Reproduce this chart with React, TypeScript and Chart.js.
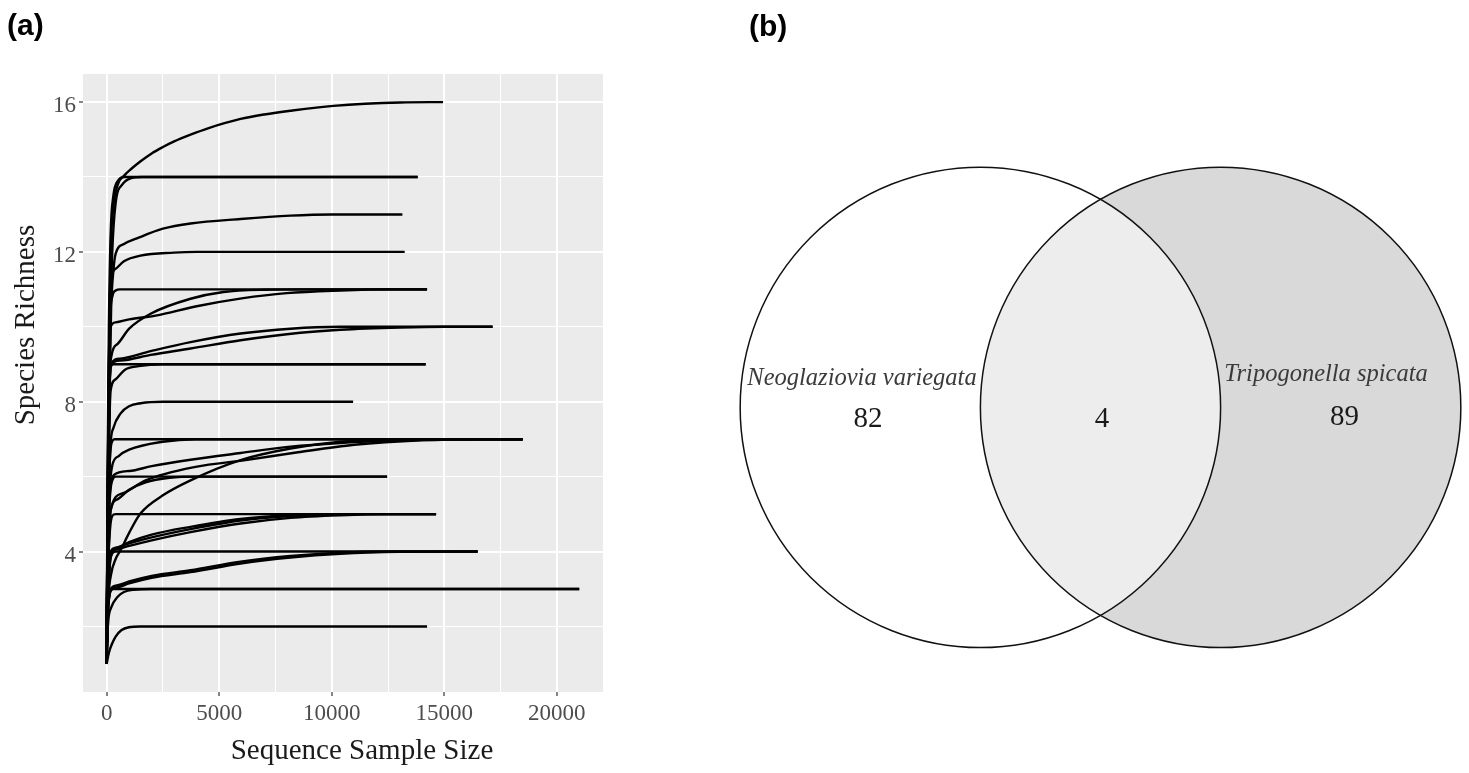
import React, { useEffect, useRef } from 'react';
import { Chart, registerables } from 'chart.js';

Chart.register(...registerables);

// ---------- Panel (a): rarefaction curves ----------
const X_MAJOR_TICKS = [0, 5000, 10000, 15000, 20000];
const X_MINOR_TICKS = [2500, 7500, 12500, 17500];
const Y_MAJOR_TICKS = [4, 8, 12, 16];
const Y_MINOR_TICKS = [2, 6, 10, 14];
const X_TITLE = 'Sequence Sample Size';
const Y_TITLE = 'Species Richness';

// each curve: [sequence sample size, species richness]
const r16 = [[1, 1], [40, 5], [100, 9], [180, 12], [300, 13.2], [500, 13.8], [800, 14.05], [1100, 14.22], [1509, 14.42], [2000, 14.63], [2500, 14.8], [3000, 14.95], [3728, 15.13], [4500, 15.3], [5948, 15.55], [7000, 15.67], [8167, 15.77], [10075, 15.9], [13049, 15.99], [14944, 16]];
const r14a = [[1, 1], [40, 6], [100, 10], [180, 12.5], [300, 13.5], [500, 13.9], [800, 14], [13817, 14]];
const r14b = [[1, 1], [50, 5], [120, 9], [250, 12], [400, 13.3], [700, 13.8], [1100, 13.97], [1600, 14], [13817, 14]];
const r13 = [[1, 1], [40, 4], [100, 7.5], [200, 10.5], [300, 11.5], [400, 11.95], [770, 12.21], [1420, 12.38], [2500, 12.62], [3728, 12.76], [5948, 12.88], [8167, 12.97], [10000, 13], [13138, 13]];
const r12 = [[1, 1], [30, 4], [80, 7.5], [130, 10], [178, 11.2], [400, 11.55], [770, 11.75], [1509, 11.9], [2974, 11.98], [4000, 12], [13240, 12]];
const r11a = [[1, 1], [30, 4], [80, 8], [150, 10.2], [250, 10.8], [400, 10.97], [600, 11], [14234, 11]];
const r11b = [[1, 1], [30, 4], [80, 7], [140, 9.3], [178, 10.0], [400, 10.12], [1000, 10.2], [2175, 10.3], [4000, 10.55], [6000, 10.76], [8000, 10.9], [10386, 10.97], [12500, 11], [14234, 11]];
const r11c = [[1, 1], [30, 3.5], [80, 6.5], [140, 8.6], [178, 9.1], [500, 9.55], [1000, 9.95], [1953, 10.35], [3728, 10.75], [5193, 10.93], [7000, 10.99], [9000, 11], [14234, 11]];
const r10a = [[1, 1], [30, 3.5], [80, 6.5], [140, 8.5], [178, 9.0], [600, 9.15], [1953, 9.35], [3728, 9.59], [5948, 9.82], [8167, 9.95], [10386, 10], [17146, 10]];
const r10b = [[1, 1], [30, 3.5], [80, 6.5], [140, 8.5], [178, 9.0], [600, 9.1], [1953, 9.25], [3728, 9.42], [5948, 9.64], [8611, 9.84], [10386, 9.92], [13049, 9.98], [15000, 10], [17146, 10]];
const r9a = [[1, 1], [30, 4], [80, 7], [130, 8.5], [200, 8.95], [300, 9], [14172, 9]];
const r9b = [[1, 1], [30, 3.5], [80, 6], [130, 7.6], [178, 8.3], [400, 8.6], [800, 8.85], [1420, 8.95], [2500, 9], [14172, 9]];
const r8 = [[1, 1], [30, 3], [80, 5], [130, 6.2], [178, 6.9], [300, 7.3], [622, 7.69], [1000, 7.88], [1509, 7.96], [2500, 8], [10950, 8]];
const r7a = [[1, 1], [30, 3], [80, 5], [130, 6.3], [200, 6.85], [350, 7], [18478, 7]];
const r7b = [[1, 1], [30, 3], [80, 4.8], [150, 5.8], [250, 6.3], [533, 6.55], [1000, 6.72], [2486, 6.93], [3950, 7], [18478, 7]];
const r7c = [[1, 1], [30, 3], [80, 4.8], [150, 5.6], [310, 6.04], [1000, 6.15], [2000, 6.28], [3728, 6.45], [5948, 6.63], [8167, 6.8], [10386, 6.9], [13000, 6.97], [15500, 7], [18478, 7]];
const r7d = [[1, 1], [30, 2.5], [80, 3.8], [178, 5.1], [700, 5.55], [1731, 5.9], [3950, 6.26], [6170, 6.44], [8500, 6.65], [11000, 6.85], [14000, 6.97], [16500, 7], [18478, 7]];
const r7e = [[1, 1], [30, 2], [80, 2.8], [200, 3.4], [400, 3.8], [622, 4.04], [1000, 4.5], [1509, 5.02], [2500, 5.5], [3728, 5.9], [5948, 6.44], [8167, 6.75], [10386, 6.93], [12600, 6.99], [14000, 7], [18478, 7]];
const r6a = [[1, 1], [30, 3], [80, 4.5], [150, 5.5], [250, 5.9], [400, 6], [12459, 6]];
const r6b = [[1, 1], [30, 2.8], [80, 4], [178, 5.1], [500, 5.4], [1000, 5.65], [1731, 5.85], [2800, 5.97], [4000, 6], [12459, 6]];
const r5a = [[1, 1], [30, 2.5], [80, 3.8], [150, 4.6], [250, 4.95], [400, 5], [14634, 5]];
const r5b = [[1, 1], [30, 2.5], [80, 3.3], [178, 4.0], [400, 4.1], [1000, 4.22], [2000, 4.38], [3728, 4.6], [5948, 4.83], [8167, 4.95], [10386, 5], [14634, 5]];
const r5c = [[1, 1], [30, 2.5], [80, 3.3], [178, 3.95], [400, 4.05], [1000, 4.15], [2000, 4.3], [3728, 4.52], [5948, 4.75], [8167, 4.9], [10386, 4.97], [12500, 5], [14634, 5]];
const r5d = [[1, 1], [30, 2.3], [80, 3.1], [178, 3.85], [500, 4.1], [1000, 4.25], [2000, 4.45], [3728, 4.66], [5948, 4.87], [8167, 4.97], [10000, 5], [14634, 5]];
const r4a = [[1, 1], [30, 2.2], [80, 3], [150, 3.7], [250, 3.95], [400, 4], [16480, 4]];
const r4b = [[1, 1], [30, 2], [80, 2.6], [178, 3.0], [500, 3.1], [1000, 3.2], [2000, 3.35], [3728, 3.5], [5948, 3.73], [8167, 3.88], [10386, 3.97], [12500, 4], [16480, 4]];
const r4c = [[1, 1], [30, 2], [80, 2.6], [178, 2.95], [500, 3.05], [1000, 3.15], [2000, 3.3], [3728, 3.45], [5948, 3.68], [8167, 3.84], [10386, 3.94], [13000, 3.99], [16480, 4]];
const r3a = [[1, 1], [30, 2], [80, 2.6], [150, 2.9], [250, 3], [20994, 3]];
const r3b = [[1, 1], [30, 1.7], [80, 2.2], [200, 2.5], [500, 2.8], [770, 2.92], [1200, 2.98], [2000, 3], [20994, 3]];
const r2 = [[1, 1], [100, 1.3], [250, 1.55], [400, 1.73], [650, 1.9], [990, 1.98], [1500, 2], [14234, 2]];

const CURVES = [r16, r14a, r14b, r13, r12, r11a, r11b, r11c, r10a, r10b, r9a, r9b, r8, r7a, r7b, r7c, r7d, r7e, r6a, r6b, r5a, r5b, r5c, r5d, r4a, r4b, r4c, r3a, r3b, r2];

// ---------- Panel (b): Venn diagram ----------
const VENN_SETS = ['Neoglaziovia variegata', 'Tripogonella spicata'];
const VENN_COUNTS = [82, 4, 89]; // only first, shared, only second

const SERIF = "'Liberation Serif', 'Times New Roman', Times, serif";
const SANS = "'Liberation Sans', Arial, Helvetica, sans-serif";

const panelA = {
  id: 'panelA',
  beforeDraw(chart: any) {
    const { ctx, chartArea } = chart;
    ctx.save();
    ctx.fillStyle = '#EBEBEB';
    ctx.fillRect(chartArea.left, chartArea.top, chartArea.right - chartArea.left, chartArea.bottom - chartArea.top);
    ctx.restore();
  },
  afterDraw(chart: any) {
    const { ctx } = chart;
    ctx.save();
    ctx.fillStyle = '#000';
    ctx.font = `bold 30px ${SANS}`;
    ctx.textAlign = 'left';
    ctx.textBaseline = 'alphabetic';
    ctx.fillText('(a)', 7, 35);
    ctx.fillStyle = '#1A1A1A';
    ctx.font = `29px ${SERIF}`;
    ctx.textAlign = 'center';
    ctx.fillText(X_TITLE, 362, 759);
    ctx.translate(33.5, 325);
    ctx.rotate(-Math.PI / 2);
    ctx.fillText(Y_TITLE, 0, 0);
    ctx.restore();
  },
};

const vennPlugin = {
  id: 'venn',
  afterDraw(chart: any) {
    const { ctx } = chart;
    const xs = chart.scales.x;
    const ys = chart.scales.y;
    const cxA = xs.getPixelForValue(-0.5);
    const cxB = xs.getPixelForValue(0.5);
    const cy = ys.getPixelForValue(0);
    const r = xs.getPixelForValue(1) - xs.getPixelForValue(0);
    const TAU = Math.PI * 2;
    ctx.save();
    ctx.beginPath();
    ctx.arc(cxB, cy, r, 0, TAU);
    ctx.fillStyle = '#D9D9D9';
    ctx.fill();
    ctx.beginPath();
    ctx.arc(cxA, cy, r, 0, TAU);
    ctx.fillStyle = '#FFFFFF';
    ctx.fill();
    ctx.save();
    ctx.beginPath();
    ctx.arc(cxA, cy, r, 0, TAU);
    ctx.clip();
    ctx.beginPath();
    ctx.arc(cxB, cy, r, 0, TAU);
    ctx.fillStyle = '#ECEDEC';
    ctx.fill();
    ctx.restore();
    ctx.lineWidth = 1.5;
    ctx.strokeStyle = '#111';
    ctx.beginPath();
    ctx.arc(cxA, cy, r, 0, TAU);
    ctx.stroke();
    ctx.beginPath();
    ctx.arc(cxB, cy, r, 0, TAU);
    ctx.stroke();

    ctx.textAlign = 'center';
    ctx.textBaseline = 'alphabetic';
    ctx.fillStyle = '#3A3A3A';
    ctx.font = `italic 24.5px ${SERIF}`;
    ctx.fillText(VENN_SETS[0], cxA - 118.4, cy - 22.4);
    ctx.fillText(VENN_SETS[1], cxB + 105.4, cy - 25.9);
    ctx.fillStyle = '#1A1A1A';
    ctx.font = `29px ${SERIF}`;
    ctx.fillText(String(VENN_COUNTS[0]), cxA - 112.4, cy + 20.1);
    ctx.fillText(String(VENN_COUNTS[1]), (cxA + cxB) / 2 + 1.5, cy + 20.1);
    ctx.fillText(String(VENN_COUNTS[2]), cxB + 124, cy + 18.1);

    ctx.fillStyle = '#000';
    ctx.font = `bold 30px ${SANS}`;
    ctx.textAlign = 'left';
    ctx.fillText('(b)', 109, 35.5);
    ctx.restore();
  },
};

const X_ALL = [...X_MAJOR_TICKS, ...X_MINOR_TICKS].sort((a, b) => a - b);
const Y_ALL = [...Y_MAJOR_TICKS, ...Y_MINOR_TICKS].sort((a, b) => a - b);

export default function App() {
  const refA = useRef<HTMLCanvasElement>(null);
  const refB = useRef<HTMLCanvasElement>(null);

  useEffect(() => {
    const chartA = new Chart(refA.current as HTMLCanvasElement, {
      type: 'line',
      data: {
        datasets: CURVES.map((c, i) => ({
          label: 'curve ' + (i + 1),
          data: c.map(([x, y]) => ({ x, y })),
          borderColor: '#000000',
          borderWidth: 2.4,
          pointRadius: 0,
          fill: false,
          cubicInterpolationMode: 'monotone',
          borderJoinStyle: 'round',
        })),
      },
      options: {
        responsive: false,
        animation: false,
        devicePixelRatio: 1,
        layout: { padding: { left: 0, top: 74, right: 37, bottom: 0 } },
        plugins: { legend: { display: false }, tooltip: { enabled: false }, title: { display: false } },
        scales: {
          x: {
            type: 'linear',
            min: -1050,
            max: 22050,
            afterFit: (s: any) => { s.height = 81; },
            afterBuildTicks: (s: any) => { s.ticks = X_ALL.map((v) => ({ value: v })); },
            ticks: {
              autoSkip: false,
              maxRotation: 0,
              padding: 4,
              color: '#4D4D4D',
              font: { family: SERIF, size: 23 },
              callback: (v: any) => (X_MAJOR_TICKS.includes(Number(v)) ? String(v) : ''),
            },
            grid: {
              color: '#FFFFFF',
              lineWidth: (ctx: any) => (X_MAJOR_TICKS.includes(ctx.tick?.value) ? 2 : 1),
              tickColor: (ctx: any) => (X_MAJOR_TICKS.includes(ctx.tick?.value) ? '#333333' : 'rgba(0,0,0,0)'),
              tickLength: 4,
              tickWidth: 1.2,
            },
            border: { display: false },
          },
          y: {
            type: 'linear',
            min: 0.25,
            max: 16.75,
            afterFit: (s: any) => { s.width = 83; },
            afterBuildTicks: (s: any) => { s.ticks = Y_ALL.map((v) => ({ value: v })); },
            ticks: {
              autoSkip: false,
              padding: 3,
              labelOffset: 4,
              color: '#4D4D4D',
              font: { family: SERIF, size: 23 },
              callback: (v: any) => (Y_MAJOR_TICKS.includes(Number(v)) ? String(v) : ''),
            },
            grid: {
              color: '#FFFFFF',
              lineWidth: (ctx: any) => (Y_MAJOR_TICKS.includes(ctx.tick?.value) ? 2 : 1),
              tickColor: (ctx: any) => (Y_MAJOR_TICKS.includes(ctx.tick?.value) ? '#333333' : 'rgba(0,0,0,0)'),
              tickLength: 4,
              tickWidth: 1.2,
            },
            border: { display: false },
          },
        },
      } as any,
      plugins: [panelA],
    });

    const chartB = new Chart(refB.current as HTMLCanvasElement, {
      type: 'scatter',
      data: { datasets: [] },
      options: {
        responsive: false,
        animation: false,
        devicePixelRatio: 1,
        layout: { padding: 0 },
        plugins: { legend: { display: false }, tooltip: { enabled: false } },
        scales: {
          x: { type: 'linear', display: false, min: -1.917, max: 1.534 },
          y: { type: 'linear', display: false, min: -1.522, max: 1.696 },
        },
      } as any,
      plugins: [vennPlugin],
    });

    return () => {
      chartA.destroy();
      chartB.destroy();
    };
  }, []);

  return (
    <div style={{ position: 'absolute', left: 0, top: 0, width: 1469, height: 773, background: '#FFFFFF', overflow: 'hidden' }}>
      <canvas ref={refA} width={640} height={773} style={{ position: 'absolute', left: 0, top: 0, width: 640, height: 773 }} />
      <canvas ref={refB} width={829} height={773} style={{ position: 'absolute', left: 640, top: 0, width: 829, height: 773 }} />
    </div>
  );
}
